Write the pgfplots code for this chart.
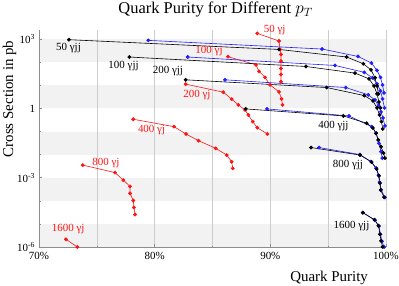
\documentclass[border=0pt]{standalone}
\usepackage{fontspec}
\setmainfont{Liberation Serif}
\usepackage{pgfplots}
\pgfplotsset{compat=1.18}
\definecolor{myblue}{rgb}{0.12,0.12,1}
\definecolor{myred}{rgb}{1,0.08,0.08}
\definecolor{band}{gray}{0.95}
\definecolor{gridc}{gray}{0.8}
\definecolor{axc}{gray}{0.55}
\begin{document}
\begin{tikzpicture}
\begin{axis}[
 set layers,
 scale only axis, width=347bp, height=217bp,
 xmin=70, xmax=100, ymode=log, ymin=1e-6, ymax=2500,
 axis x line*=bottom, axis y line*=left,
 axis line style={axc, line width=0.6bp},
 xtick={70,80,90,100}, xticklabels={70\%,80\%,90\%,100\%},
 minor xtick={75,85,95},
 xmajorgrids, xminorgrids,
 grid style={gridc, line width=0.6bp},
 minor grid style={gridc, line width=0.6bp},
 ytick={1e-6,1e-3,1,1e3},
 yticklabels={10\textsuperscript{-6},10\textsuperscript{-3},1,10\textsuperscript{3}},
 minor ytick={1e-5,1e-4,1e-2,1e-1,10,100},
 tick align=inside,
 major tick length=3bp, minor tick length=1.5bp,
 tick style={axc, line width=0.5bp},
 ticklabel style={font=\fontsize{11}{13}\selectfont},
 xticklabel style={yshift=-1.5bp},
 yticklabel style={xshift=-0.5bp},
 clip=false,
 blk/.style={black, line width=0.6bp, mark=*, mark size=1.6bp, mark options={solid}},
 blu/.style={myblue, line width=0.6bp, mark=*, mark size=1.6bp},
 rd/.style={myred, line width=0.6bp, mark=*, mark size=1.6bp},
 bnd/.style={draw=none, fill=band, mark=none, on layer=axis background},
]
\addplot[bnd] coordinates {(70,100) (100,100) (100,1000) (70,1000)} -- cycle;
\addplot[bnd] coordinates {(70,1) (100,1) (100,10) (70,10)} -- cycle;
\addplot[bnd] coordinates {(70,0.01) (100,0.01) (100,0.1) (70,0.1)} -- cycle;
\addplot[bnd] coordinates {(70,1e-4) (100,1e-4) (100,1e-3) (70,1e-3)} -- cycle;
\addplot[bnd] coordinates {(70,1e-6) (100,1e-6) (100,1e-5) (70,1e-5)} -- cycle;

% red: gamma j
\addplot[rd] coordinates {(88.87,1786) (90.75,835) (90.84,360) (90.92,219) (90.92,113) (90.92,53.9) (90.92,29.6) (90.92,14.3)};
\addplot[rd] coordinates {(86.34,174) (88.76,78) (89.02,40.7) (89.54,22.3) (89.97,10.5) (90.75,5.24) (90.97,2.6) (91.05,1.43)};
\addplot[rd] coordinates {(82.68,11.3) (85.93,5.08) (86.66,2.53) (87.23,1.43) (87.81,0.865) (88.10,0.525) (88.48,0.269) (88.87,0.147) (89.74,0.0785)};
\addplot[rd] coordinates {(78.15,0.341) (81.67,0.163) (82.71,0.0785) (83.79,0.0402) (85.28,0.0188) (86.23,0.0096) (86.66,0.00492) (86.75,0.00254)};
\addplot[rd] coordinates {(73.78,0.00353) (76.57,0.00167) (77.29,7.88e-4) (77.87,4.2e-4) (77.87,2.08e-4) (78.15,1.03e-4) (78.21,5.14e-5) (78.30,2.55e-5)};
\addplot[rd] coordinates {(72.33,2.16e-6) (73.31,1.0e-6)};

% blue
\addplot[blu] coordinates {(79.45,887) (94.47,375) (97.58,179) (98.74,92.5) (99.22,45) (99.52,22.3) (99.70,10.5) (99.83,4.7)};
\addplot[blu] coordinates {(82.86,169) (95.59,72.8) (98.12,36.8) (98.83,21.3) (99.22,11.7) (99.52,5.8) (99.70,2.6) (99.87,1.06)};
\addplot[blu] coordinates {(86.08,17.4) (96.52,8.06) (98.47,3.88) (99.05,2.35) (99.35,1.29) (99.57,0.709) (99.74,0.389) (99.91,0.175)};
\addplot[blu] coordinates {(89.71,0.957) (96.80,0.475) (98.76,0.163) (99.14,0.086) (99.39,0.031) (99.57,0.0134) (99.68,0.0071)};
\addplot[blu] coordinates {(94.21,0.0203) (97.75,0.0101) (98.70,0.00502) (99.14,0.00262) (99.35,0.0013) (99.44,6.46e-4) (99.57,3.05e-4) (99.91,1.40e-4)};
\addplot[blu] coordinates {(98.01,3.05e-5) (99.05,1.44e-5) (99.39,7.91e-6) (99.52,3.56e-6) (99.65,1.77e-6) (99.83,1.0e-6)};

% black: gamma jj
\addplot[blk] coordinates {(72.59,951) (90.75,360) (96.60,169) (98.04,86) (98.70,47) (99.05,21.3) (99.22,9.5) (99.35,4.3)};
\addplot[blk] coordinates {(77.81,169) (93.08,65.8) (97.32,34) (98.53,19.2) (98.96,9.5) (99.22,4.3) (99.39,1.9) (99.52,1.06)};
\addplot[blk] coordinates {(82.68,17.4) (94.87,8.06) (98.12,3.62) (98.87,2.13) (99.22,1.06) (99.44,0.525) (99.61,0.269) (99.72,0.13)};
\addplot[blk] coordinates {(87.87,0.957) (96.31,0.475) (98.33,0.229) (98.87,0.143) (99.14,0.084) (99.33,0.043) (99.57,0.022) (99.78,0.0117) (99.91,0.0071)};
\addplot[blk] coordinates {(93.52,0.0203) (97.75,0.0096) (98.76,0.00477) (99.19,0.00237) (99.39,0.00121) (99.48,5.84e-4) (99.54,2.9e-4) (99.83,1.44e-4)};
\addplot[blk] coordinates {(97.99,3.11e-5) (99.00,1.52e-5) (99.35,8.32e-6) (99.48,3.56e-6) (99.57,1.85e-6) (99.70,1.02e-6)};

% labels
\begin{scope}[every node/.style={font=\fontsize{11}{13}\selectfont, inner sep=0pt}]
\node[black] at (axis cs:72.55,427) {50 γjj};
\node[black] at (axis cs:77.31,70.6) {100 γjj};
\node[black] at (axis cs:81.15,42.9) {200 γjj};
\node[black] at (axis cs:95.46,0.175) {400 γjj};
\node[black] at (axis cs:96.71,0.00353) {800 γjj};
\node[black] at (axis cs:97.02,7.9e-6) {1600 γjj};
\node[myred] at (axis cs:90.38,2411) {50 γj};
\node[myred] at (axis cs:84.70,316) {100 γj};
\node[myred] at (axis cs:83.66,3.88) {200 γj};
\node[myred] at (axis cs:79.73,0.117) {400 γj};
\node[myred] at (axis cs:75.79,0.00419) {800 γj};
\node[myred] at (axis cs:72.53,6.3e-6) {1600 γj};
\end{scope}

\node[anchor=base, font=\fontsize{16.5}{19}\selectfont] at (rel axis cs:0.509,1.076) {Quark Purity for Different $p_T$};
\node[anchor=base, font=\fontsize{15}{18}\selectfont] at (rel axis cs:0.836,-0.159) {Quark Purity};
\node[anchor=base, rotate=90, font=\fontsize{15}{18}\selectfont] at (rel axis cs:-0.0745,0.682) {Cross Section in pb};

\coordinate (sw) at (rel axis cs:0,0);
\coordinate (ne) at (rel axis cs:1,1);
\end{axis}
\pgfresetboundingbox
\path[use as bounding box] ([shift={(-39bp,-39bp)}]sw) rectangle ([shift={(13bp,30bp)}]ne);
\end{tikzpicture}
\end{document}
